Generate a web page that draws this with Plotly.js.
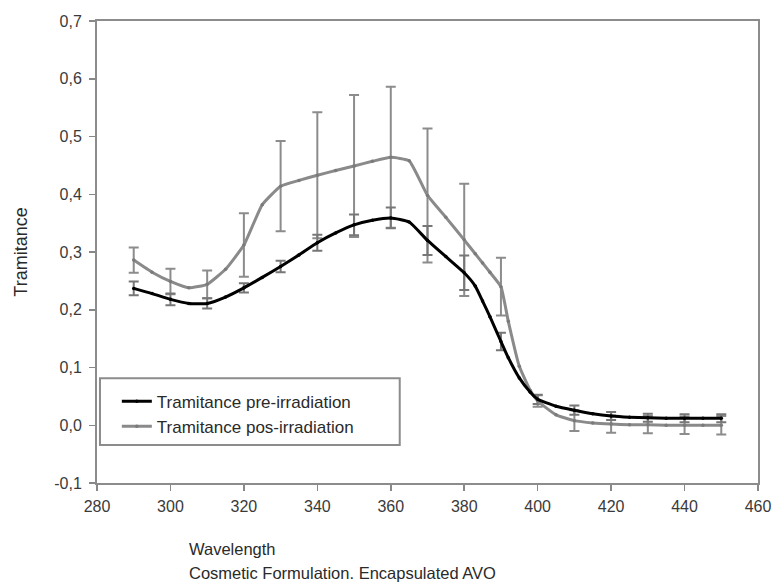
<!DOCTYPE html>
<html>
<head>
<meta charset="utf-8">
<script src="https://cdn.plot.ly/plotly-3.0.1.min.js"></script>
<style>html,body{margin:0;padding:0;background:#fff;}#chart{width:774px;height:583px;}</style>
</head>
<body>
<div id="chart"></div>
<script>
// Wavelength (nm)
var wavelength = [290,295,300,305,310,315,320,325,330,335,340,345,350,355,360,365,370,375,380,383,385,387,390,392,395,398,400,405,410,415,420,425,430,435,440,445,450];
// Tramitance pre-irradiation
var preIrr = [0.237,0.228,0.218,0.211,0.211,0.222,0.238,0.256,0.275,0.295,0.316,0.333,0.347,0.355,0.359,0.352,0.320,0.292,0.264,0.241,0.215,0.188,0.145,0.117,0.082,0.057,0.045,0.033,0.026,0.020,0.016,0.014,0.013,0.012,0.012,0.012,0.012];
// Tramitance pos-irradiation
var posIrr = [0.286,0.265,0.249,0.238,0.244,0.270,0.312,0.382,0.414,0.424,0.433,0.441,0.449,0.457,0.464,0.458,0.398,0.360,0.321,0.297,0.281,0.265,0.240,0.180,0.102,0.060,0.042,0.018,0.008,0.004,0.002,0.001,0.001,0.000,0.000,0.000,0.000];

// Error bars (drawn every 10 nm)
var errWavelength = [290,300,310,320,330,340,350,360,370,380,390,400,410,420,430,440,450];
var preErr = [0.012,0.010,0.009,0.008,0.010,0.014,0.018,0.018,0.025,0.030,0.015,0.008,0.008,0.007,0.007,0.007,0.007];
var posErr = [0.022,0.022,0.024,0.055,0.078,0.109,0.123,0.122,0.116,0.097,0.050,0.010,0.018,0.015,0.015,0.015,0.016];

var yTickVals = [-0.1,0,0.1,0.2,0.3,0.4,0.5,0.6,0.7];
var yTickText = ['-0,1','0,0','0,1','0,2','0,3','0,4','0,5','0,6','0,7'];
var xTickVals = [280,300,320,340,360,380,400,420,440,460];

function pick(series){
  return errWavelength.map(function(w){ return series[wavelength.indexOf(w)]; });
}

var FONT = 'Liberation Sans, Arial, sans-serif';

var traces = [
  {x: errWavelength, y: pick(posIrr), type:'scatter', mode:'markers', showlegend:false, hoverinfo:'skip',
   marker:{size:1, color:'rgba(0,0,0,0)'},
   error_y:{type:'data', array: posErr, visible:true, color:'#8c8c8c', thickness:2, width:5}},
  {x: errWavelength, y: pick(preIrr), type:'scatter', mode:'markers', showlegend:false, hoverinfo:'skip',
   marker:{size:1, color:'rgba(0,0,0,0)'},
   error_y:{type:'data', array: preErr, visible:true, color:'#777777', thickness:2, width:5}},
  {x: wavelength, y: posIrr, type:'scatter', mode:'lines+markers', name:'Tramitance pos-irradiation',
   line:{color:'#8a8a8a', width:3, shape:'spline', smoothing:0.4},
   marker:{size:3.5, color:'#7a7a7a'}},
  {x: wavelength, y: preIrr, type:'scatter', mode:'lines+markers', name:'Tramitance pre-irradiation',
   line:{color:'#000000', width:3, shape:'spline', smoothing:0.5},
   marker:{size:3.5, color:'#000000'}}
];

var layout = {
  width: 774, height: 583,
  margin: {l:97, r:16, t:21, b:100},
  paper_bgcolor:'#ffffff', plot_bgcolor:'#ffffff',
  font:{family: FONT, color:'#333333'},
  showlegend:true,
  legend:{
    x:0.03, y:0.215, xanchor:'left', yanchor:'top',
    traceorder:'reversed',
    bgcolor:'rgba(0,0,0,0)', borderwidth:0,
    font:{family:FONT, size:17, color:'#2a2a2a'}
  },
  xaxis:{
    range:[280,460], tickvals: xTickVals, ticks:'outside', ticklen:6, tickwidth:1.5, tickcolor:'#888888',
    showline:true, linecolor:'#8c8c8c', linewidth:2, mirror:true, showgrid:false, zeroline:false,
    ticklabelstandoff:2,
    tickfont:{family:FONT, size:16, color:'#3a3a3a'}
  },
  yaxis:{
    range:[-0.1,0.7], tickvals: yTickVals, ticks:'outside', ticktext: yTickText, ticklen:6, tickwidth:1.5, tickcolor:'#888888',
    showline:true, linecolor:'#8c8c8c', linewidth:2, mirror:true, showgrid:false, zeroline:false,
    ticklabelstandoff:4,
    tickfont:{family:FONT, size:16, color:'#3a3a3a'},
    title:{text:'Tramitance', font:{family:FONT, size:18, color:'#2a2a2a'}, standoff:22}
  },
  shapes:[
    {type:'rect', xref:'paper', yref:'paper', x0:0.0045, x1:0.458, y0:0.082, y1:0.227,
     line:{color:'#8c8c8c', width:2}, fillcolor:'rgba(0,0,0,0)', layer:'above'}
  ],
  annotations:[
    {xref:'paper', yref:'paper', x:0.136, y:-0.12, xanchor:'left', yanchor:'top', align:'left', showarrow:false,
     text:'Wavelength', font:{family:FONT, size:16.5, color:'#2a2a2a'}},
    {xref:'paper', yref:'paper', x:0.136, y:-0.17, xanchor:'left', yanchor:'top', align:'left', showarrow:false,
     text:'Cosmetic Formulation. Encapsulated AVO', font:{family:FONT, size:16.5, color:'#2a2a2a'}}
  ]
};

Plotly.newPlot('chart', traces, layout, {displayModeBar:false, staticPlot:true});
</script>
</body>
</html>
